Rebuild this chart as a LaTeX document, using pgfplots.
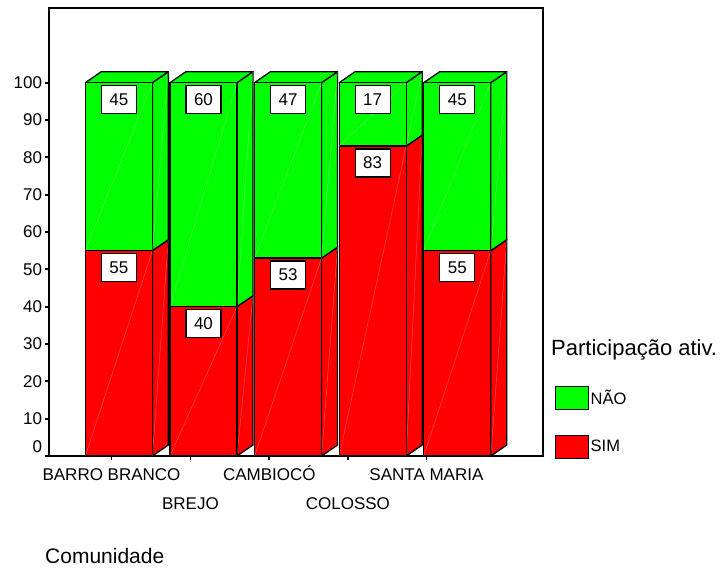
\documentclass[border=0pt]{standalone}
\usepackage{fontspec}
\setmainfont{Liberation Sans}
\usepackage{pgfplots}
\usepackage{pgfplotstable}
\pgfplotsset{compat=1.18}

\definecolor{naogreen}{RGB}{0,255,0}
\definecolor{simred}{RGB}{255,0,0}

% Participation shares (%) per community
\pgfplotstableread{
pos sim nao
0   55  45
1   40  60
2   53  47
3   83  17
4   55  45
}\partdata

% bar geometry in axis units: half front width, depth offsets
\def\hw{0.396}
\def\ddx{0.189}
\def\ddy{2.95}

\pgfplotsset{
  face/.style={draw=black, line width=1.3pt, line join=round, mark=none, forget plot},
  diag/.style={draw=white, opacity=0.3, line width=0.5pt, mark=none, forget plot},
}

% right side and top of a bar (#1 = position, #2 = SIM share)
\newcommand\sidefaces[2]{%
  \pgfmathsetmacro\xl{#1-\hw}%
  \pgfmathsetmacro\xr{#1+\hw}%
  \pgfmathsetmacro\xld{#1-\hw+\ddx}%
  \pgfmathsetmacro\xrd{#1+\hw+\ddx}%
  \pgfmathsetmacro\ysd{#2+\ddy}%
  \pgfmathsetmacro\ytd{100+\ddy}%
  \edef\faces{%
    \noexpand\addplot[face, fill=simred] coordinates {(\xr,0) (\xrd,\ddy) (\xrd,\ysd) (\xr,#2)} -- cycle;
    \noexpand\addplot[face, fill=naogreen] coordinates {(\xr,#2) (\xrd,\ysd) (\xrd,\ytd) (\xr,100)} -- cycle;
    \noexpand\addplot[face, fill=naogreen] coordinates {(\xl,100) (\xld,\ytd) (\xrd,\ytd) (\xr,100)} -- cycle;
  }\faces
}

% light shading diagonals on the faces
\newcommand\facediags[2]{%
  \pgfmathsetmacro\xl{#1-\hw}%
  \pgfmathsetmacro\xr{#1+\hw}%
  \pgfmathsetmacro\xrd{#1+\hw+\ddx}%
  \pgfmathsetmacro\ysd{#2+\ddy}%
  \pgfmathsetmacro\ytd{100+\ddy}%
  \edef\diags{%
    \noexpand\addplot[diag] coordinates {(\xl,0) (\xr,#2)};
    \noexpand\addplot[diag] coordinates {(\xl,#2) (\xr,100)};
    \noexpand\addplot[diag] coordinates {(\xr,0) (\xrd,\ysd)};
    \noexpand\addplot[diag] coordinates {(\xr,#2) (\xrd,\ytd)};
  }\diags
}

\begin{document}
\begin{tikzpicture}
\useasboundingbox (-49pt,-115pt) rectangle (675pt,456pt);
\begin{axis}[
  at={(0pt,0pt)}, anchor=south west,
  scale only axis, width=494pt, height=448pt,
  xmin=-0.826, xmax=5.013, ymin=0, ymax=120,
  clip=false,
  axis line style={line width=1.6pt},
  tick pos=left, tick align=outside,
  major tick length=3.5pt,
  major tick style={line width=1.8pt, black},
  /pgf/number format/assume math mode=true,
  ticklabel style={font=\fontsize{17}{19}\selectfont},
  ytick={10,20,...,100},
  extra y ticks={0},
  extra y tick style={yticklabel style={yshift=9pt}},
  xtick={-0.087,1.779,3.635},
  xticklabels={BARRO BRANCO, CAMBIOCÓ, SANTA MARIA},
  xticklabel style={yshift=-5pt, text height=12pt, text depth=3pt},
  extra x ticks={0.846,2.707},
  extra x tick labels={BREJO, COLOSSO},
  extra x tick style={xticklabel style={yshift=-29.1pt}},
  xlabel=Comunidade,
  x label style={at={(axis description cs:-0.0081,-0.241)}, anchor=base west,
                 inner sep=0pt, font=\fontsize{21}{24}\selectfont},
  legend style={at={(axis description cs:1.0243,0.1563)}, anchor=north west,
                draw=none, fill=none, inner sep=0pt, outer sep=0pt,
                row sep=24.5pt, column sep=0pt, nodes={inner sep=1.5pt},
                font=\fontsize{16.5}{18}\selectfont},
  legend cell align=left,
]

% side and top faces
\pgfplotsinvokeforeach{0,...,4}{
  \pgfplotstablegetelem{#1}{sim}\of\partdata
  \let\simv\pgfplotsretval
  \sidefaces{#1}{\simv}
}

% front faces: full column (NÃO on top), then the SIM part
\addplot[ybar, bar width=0.792, bar shift=0pt, fill=naogreen, draw=black,
         line width=1.3pt, forget plot]
  table[x=pos, y expr=\thisrow{sim}+\thisrow{nao}]{\partdata};
\addplot[ybar, bar width=0.792, bar shift=0pt, fill=simred, draw=black,
         line width=1.3pt, forget plot]
  table[x=pos, y=sim]{\partdata};

\pgfplotsinvokeforeach{0,...,4}{
  \pgfplotstablegetelem{#1}{sim}\of\partdata
  \let\simv\pgfplotsretval
  \facediags{#1}{\simv}
}

% value boxes just below the top of each segment
\pgfplotsset{valbox/.style={
  draw=none, mark=none, forget plot,
  nodes near coords, point meta=explicit,
  every node near coord/.style={anchor=north, yshift=-2.3pt, fill=white,
     draw=black, line width=1.2pt, minimum width=35pt, minimum height=28pt,
     inner sep=0pt, font=\fontsize{17}{19}\selectfont}}}
\addplot[valbox] table[x=pos, y=sim, meta=sim]{\partdata};
\addplot[valbox] table[x=pos, y expr=\thisrow{sim}+\thisrow{nao}, meta=nao]{\partdata};

% legend
\addlegendimage{legend image code/.code={\draw[line width=1.2pt, fill=naogreen] (0pt,-11.5pt) rectangle (33pt,11.5pt);}}
\addlegendentry{NÃO}
\addlegendimage{legend image code/.code={\draw[line width=1.2pt, fill=simred] (0pt,-11.5pt) rectangle (33pt,11.5pt);}}
\addlegendentry{SIM}

\node[anchor=base west, inner sep=0pt, font=\fontsize{22}{26}\selectfont]
  at (axis description cs:1.0162,0.2254) {Participação ativ.};
\end{axis}
\end{tikzpicture}
\end{document}
